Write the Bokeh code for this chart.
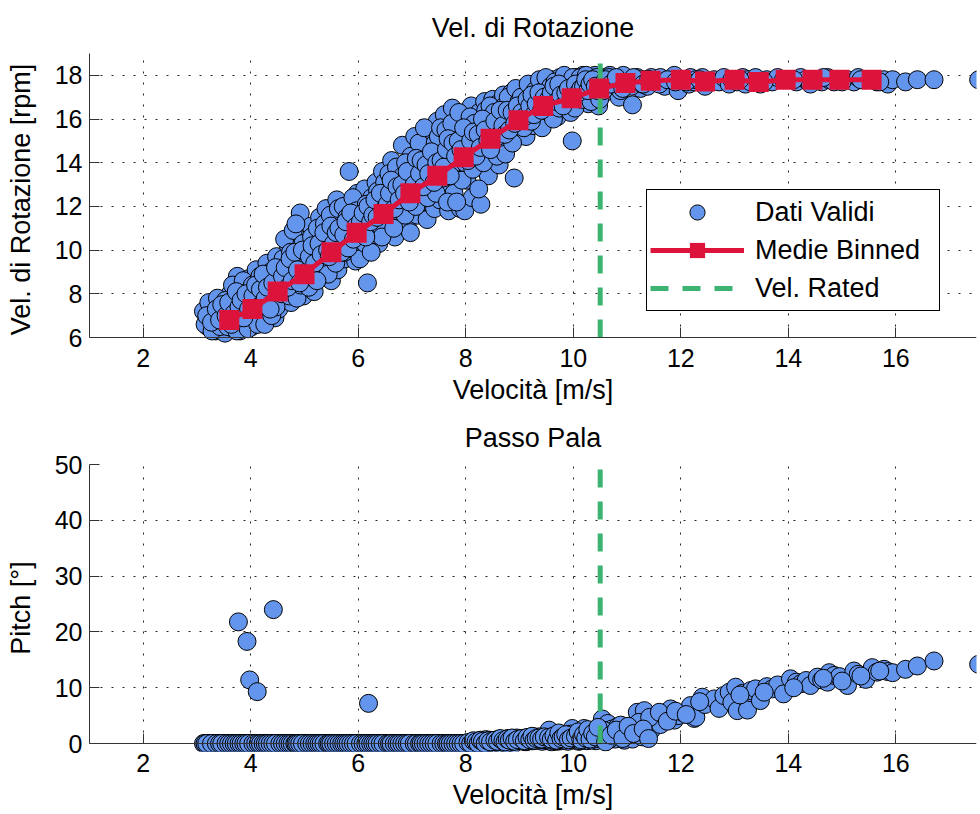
from bokeh.plotting import figure
from bokeh.models import Range1d, Legend, LegendItem, FixedTicker, LinearAxis
from bokeh.layouts import column
from bokeh.embed import file_html
from bokeh.resources import INLINE

# ---------------- data ----------------
wind_speed = [
    3.12, 3.20, 3.25, 3.30, 3.35, 3.40, 3.45, 3.48,
    3.52, 3.55, 3.60, 3.62, 3.68, 3.70, 3.75, 3.77, 3.80, 3.85, 3.88, 3.90, 3.93, 3.97, 3.98,
    4.02, 4.05, 4.10, 4.12, 4.15, 4.20, 4.22, 4.28, 4.30, 4.35, 4.40, 4.42, 4.45, 4.48,
    4.52, 4.55, 4.60, 4.62, 4.68, 4.70, 4.75, 4.78, 4.80, 4.85, 4.88, 4.92, 4.95, 4.98,
    5.02, 5.05, 5.10, 5.12, 5.18, 5.20, 5.25, 5.28, 5.32, 5.35, 5.40, 5.42, 5.47, 5.50,
    5.52, 5.55, 5.60, 5.62, 5.68, 5.70, 5.75, 5.78, 5.83, 5.85, 5.88, 5.92, 5.95, 5.98,
    6.02, 6.05, 6.10, 6.12, 6.17, 6.19, 6.22, 6.25, 6.30, 6.33, 6.38, 6.40, 6.45, 6.48,
    6.52, 6.55, 6.60, 6.62, 6.68, 6.70, 6.75, 6.78, 6.82, 6.85, 6.90, 6.92, 6.97, 6.98,
    7.02, 7.05, 7.10, 7.12, 7.18, 7.20, 7.25, 7.28, 7.32, 7.35, 7.40, 7.42, 7.47, 7.50,
    7.52, 7.55, 7.60, 7.62, 7.68, 7.70, 7.75, 7.78, 7.82, 7.85, 7.90, 7.92, 7.97, 7.98,
    8.02, 8.05, 8.10, 8.12, 8.18, 8.20, 8.25, 8.28, 8.32, 8.35, 8.40, 8.42, 8.47, 8.50,
    8.52, 8.55, 8.60, 8.62, 8.68, 8.70, 8.75, 8.78, 8.82, 8.85, 8.90, 8.92, 8.97, 8.98,
    9.02, 9.05, 9.10, 9.12, 9.18, 9.20, 9.25, 9.28, 9.32, 9.35, 9.40, 9.42, 9.47, 9.48,
    9.52, 9.55, 9.60, 9.62, 9.68, 9.70, 9.75, 9.78, 9.82, 9.85, 9.90, 9.92, 9.97, 9.98,
    10.02, 10.05, 10.10, 10.12, 10.18, 10.20, 10.25, 10.28, 10.32, 10.35, 10.40, 10.42, 10.47, 10.48,
    10.52, 10.54, 10.58, 10.62, 10.64, 10.68, 10.72, 10.78, 10.82, 10.85, 10.90, 10.95, 10.98,
    11.05, 11.10, 11.15, 11.19, 11.25, 11.32, 11.35, 11.38, 11.45,
    11.55, 11.62, 11.70, 11.81, 11.88, 11.95,
    12.05, 12.15, 12.18, 12.25, 12.28, 12.40, 12.45,
    12.62, 12.71, 12.80, 12.90, 12.95,
    13.02, 13.05, 13.15, 13.20, 13.24, 13.30, 13.39, 13.48,
    13.60, 13.70, 13.80, 13.91,
    14.04, 14.15, 14.23, 14.33, 14.41,
    14.54, 14.62, 14.73, 14.76, 14.85, 14.95,
    15.10, 15.22, 15.30, 15.44,
    15.56, 15.65, 15.78, 15.85, 15.94,
    16.18, 16.40, 16.71, 17.54,
    # second pass of records
    3.15, 3.22, 3.28, 3.33, 3.38, 3.43, 3.47,
    3.53, 3.57, 3.63, 3.66, 3.72, 3.74, 3.79, 3.83, 3.86, 3.92, 3.95, 3.99,
    4.03, 4.07, 4.13, 4.17, 4.24, 4.26, 4.32, 4.37, 4.39, 4.44, 4.47, 4.49,
    4.53, 4.58, 4.63, 4.66, 4.72, 4.74, 4.79, 4.83, 4.86, 4.90, 4.93, 4.97,
    5.03, 5.08, 5.13, 5.16, 5.22, 5.24, 5.29, 5.33, 5.37, 5.41, 5.44, 5.48,
    5.53, 5.58, 5.63, 5.66, 5.72, 5.74, 5.79, 5.82, 5.87, 5.90, 5.93, 5.97,
    6.03, 6.08, 6.13, 6.15, 6.21, 6.24, 6.28, 6.32, 6.36, 6.42, 6.44, 6.49,
    6.53, 6.57, 6.63, 6.66, 6.71, 6.74, 6.79, 6.83, 6.87, 6.88, 6.93, 6.96,
    7.03, 7.07, 7.13, 7.16, 7.22, 7.23, 7.29, 7.33, 7.37, 7.43, 7.45, 7.49,
    7.53, 7.58, 7.63, 7.66, 7.72, 7.74, 7.80, 7.83, 7.87, 7.93, 7.95, 7.99,
    8.03, 8.08, 8.13, 8.16, 8.22, 8.24, 8.29, 8.33, 8.37, 8.43, 8.45, 8.49,
    8.53, 8.58, 8.63, 8.66, 8.72, 8.74, 8.79, 8.83, 8.87, 8.93, 8.95, 8.99,
    9.03, 9.08, 9.13, 9.16, 9.22, 9.24, 9.29, 9.33, 9.37, 9.43, 9.45, 9.49,
    9.53, 9.58, 9.63, 9.66, 9.72, 9.74, 9.79, 9.83, 9.87, 9.93, 9.95, 9.99,
    10.03, 10.08, 10.13, 10.16, 10.22, 10.24, 10.29, 10.33, 10.37, 10.43, 10.45, 10.49,
    10.56, 10.66, 10.75, 10.88, 10.93,
    11.08, 11.22, 11.28, 11.42,
    11.60, 11.75, 11.90,
    12.10, 12.35,
    13.10, 13.55, 14.10, 14.65, 15.00, 15.35, 15.70,
    # third pass of records
    3.18, 3.27, 3.36, 3.42, 3.46,
    3.54, 3.59, 3.64, 3.69, 3.73, 3.78, 3.82, 3.87, 3.91, 3.96,
    4.04, 4.09, 4.14, 4.18, 4.23, 4.27, 4.31, 4.36, 4.41, 4.46,
    4.54, 4.59, 4.64, 4.69, 4.73, 4.77, 4.82, 4.84, 4.87, 4.91, 4.96,
    5.04, 5.09, 5.14, 5.19, 5.23, 5.27, 5.31, 5.36, 5.43, 5.46, 5.49,
    5.54, 5.59, 5.64, 5.69, 5.73, 5.77, 5.81, 5.86, 5.91, 5.96,
    6.04, 6.09, 6.14, 6.18, 6.23, 6.27, 6.31, 6.35, 6.41, 6.46,
    6.54, 6.58, 6.61, 6.67, 6.72, 6.76, 6.81, 6.86, 6.91, 6.95,
    7.04, 7.08, 7.14, 7.17, 7.21, 7.26, 7.31, 7.36, 7.41, 7.46,
    7.54, 7.59, 7.64, 7.67, 7.71, 7.76, 7.81, 7.86, 7.91, 7.96,
    8.04, 8.09, 8.14, 8.19, 8.23, 8.27, 8.31, 8.36, 8.41, 8.46,
    8.54, 8.59, 8.64, 8.69, 8.73, 8.77, 8.81, 8.86, 8.91, 8.96,
    9.04, 9.09, 9.14, 9.19, 9.23, 9.27, 9.31, 9.36, 9.41, 9.46,
    9.54, 9.59, 9.64, 9.69, 9.73, 9.77, 9.81, 9.86, 9.91, 9.96,
    10.04, 10.09, 10.14, 10.19, 10.23, 10.27, 10.31, 10.36, 10.41, 10.46,
    10.60, 10.70, 10.80, 10.92, 11.02, 11.12, 11.30, 11.40,
]

rotor_speed = [
    7.2, 6.5, 6.9, 7.4, 6.3, 7.0, 7.7, 6.6,
    6.2, 7.3, 6.8, 8.0, 6.4, 7.6, 8.8, 7.0, 6.3, 8.3, 7.4, 6.6, 7.9, 8.7, 7.1,
    6.5, 7.2, 9.1, 8.0, 6.8, 7.6, 8.5, 7.1, 9.4, 8.1, 7.5, 8.9, 6.9, 9.7,
    7.3, 8.4, 9.6, 7.8, 8.9, 10.2, 7.6, 9.3, 8.2, 10.6, 8.7, 11.7, 9.8, 7.9,
    8.5, 10.1, 9.2, 11.1, 8.1, 10.5, 9.6, 11.5, 8.8, 10.0, 11.9, 9.3, 10.7, 8.6,
    9.9, 11.2, 12.3, 9.1, 10.4, 11.7, 9.6, 10.9, 13.6, 12.1, 10.2, 11.4, 9.5, 12.6,
    10.8, 11.9, 10.0, 12.8, 8.5, 11.3, 10.5, 12.4, 11.0, 13.1, 10.3, 11.8, 13.6, 12.2,
    10.9, 12.9, 11.5, 14.1, 10.6, 12.4, 13.5, 11.2, 14.8, 12.0, 13.1, 11.0, 10.8, 14.3,
    12.7, 15.2, 11.6, 13.8, 12.2, 14.6, 13.2, 11.4, 15.5, 12.8, 14.1, 11.9, 15.9, 13.5,
    12.3, 14.8, 16.2, 13.1, 11.8, 14.4, 16.5, 12.6, 15.3, 13.7, 11.9, 16.0, 14.5, 11.8,
    13.2, 15.6, 16.6, 12.4, 14.9, 13.8, 16.3, 12.1, 15.2, 16.8, 14.2, 13.4, 15.9, 16.9,
    14.6, 15.5, 16.7, 13.9, 15.1, 17.1, 16.2, 14.8, 15.8, 17.2, 13.3, 16.5, 15.3, 17.3,
    15.9, 16.8, 17.4, 15.2, 16.4, 17.5, 15.7, 16.9, 17.6, 16.1, 17.0, 15.6, 17.7, 16.6,
    17.2, 16.3, 17.8, 16.8, 17.4, 16.1, 17.9, 16.9, 17.5, 16.5, 17.8, 17.1, 17.6, 15.0,
    17.3, 17.9, 16.8, 17.6, 18.0, 17.1, 17.7, 16.7, 17.9, 17.4, 18.0, 17.2, 16.6, 17.8,
    17.5, 17.9, 17.2, 17.7, 17.6, 18.0, 17.4, 17.8, 17.6, 17.0, 17.9, 17.5, 17.7,
    17.8, 16.65, 17.6, 17.9, 17.4, 17.8, 17.7, 17.5, 17.9,
    17.7, 17.9, 17.5, 17.8, 18.0, 17.3,
    17.8, 17.6, 17.9, 17.7, 17.8, 17.9, 17.5,
    17.8, 17.7, 17.9, 17.6, 17.8,
    17.8, 17.7, 17.9, 17.6, 17.8, 17.7, 17.9, 17.6,
    17.8, 17.7, 17.9, 17.8,
    17.8, 17.7, 17.9, 17.8, 17.6,
    17.8, 17.7, 17.9, 17.8, 17.7, 17.8,
    17.8, 17.7, 17.9, 17.8,
    17.8, 17.7, 17.8, 17.6, 17.8,
    17.7, 17.8, 17.8, 17.8,
    # second pass of records
    6.6, 7.6, 6.3, 7.0, 7.8, 6.5, 7.3,
    7.7, 6.5, 7.2, 8.4, 6.9, 6.3, 7.9, 6.8, 8.6, 7.6, 6.4, 8.2,
    8.4, 7.7, 6.6, 8.8, 7.9, 6.6, 8.6, 9.0, 7.0, 8.2, 7.4, 8.7,
    9.0, 8.0, 10.5, 8.6, 7.9, 9.9, 10.9, 9.0, 7.8, 9.5, 8.4, 10.3,
    9.5, 8.3, 10.6, 9.9, 8.9, 11.0, 10.3, 9.1, 11.2, 10.4, 8.9, 11.6,
    10.6, 9.4, 11.9, 10.1, 12.0, 9.9, 11.5, 10.6, 11.0, 12.4, 10.0, 11.8,
    9.6, 11.4, 10.3, 12.1, 11.6, 9.9, 12.0, 10.7, 12.7, 11.1, 10.6, 13.1,
    11.9, 13.5, 12.2, 11.0, 13.8, 11.8, 12.9, 13.4, 11.6, 14.0, 12.5, 13.0,
    13.4, 12.0, 14.9, 12.9, 13.7, 15.6, 12.4, 14.2, 13.0, 14.9, 12.6, 15.2,
    15.6, 13.3, 15.5, 12.2, 13.5, 15.8, 14.0, 12.2, 16.3, 13.2, 15.2, 14.0,
    14.5, 16.1, 13.7, 15.8, 14.5, 12.8, 15.6, 14.0, 16.4, 14.8, 16.6, 15.4,
    16.3, 14.3, 16.0, 15.4, 16.6, 14.4, 17.0, 16.1, 14.9, 17.4, 16.0, 16.8,
    17.0, 15.6, 16.3, 17.6, 15.9, 16.9, 17.3, 16.4, 17.8, 16.8, 17.3, 17.9,
    16.6, 17.5, 16.0, 17.7, 17.0, 16.5, 17.3, 18.0, 16.7, 17.4, 16.3, 17.9,
    16.5, 17.5, 17.9, 16.9, 17.5, 18.0, 17.2, 16.8, 17.7, 17.9, 17.4, 16.9,
    17.3, 17.9, 17.6, 17.3, 18.0,
    17.5, 17.8, 17.6, 17.8,
    17.6, 17.8, 17.7,
    17.7, 17.8,
    17.8, 17.7, 17.8, 17.9, 17.7, 17.8, 17.7,
    # third pass of records
    7.0, 6.7, 7.3, 6.8, 7.5,
    7.0, 7.6, 6.6, 7.1, 8.1, 7.4, 7.7, 6.9, 8.0, 7.3,
    7.9, 8.4, 7.4, 8.2, 8.9, 7.8, 8.3, 7.3, 8.5, 9.2,
    8.1, 8.8, 9.2, 8.3, 9.6, 8.6, 9.9, 11.2, 9.1, 8.5, 10.0,
    9.0, 9.7, 10.2, 9.4, 8.6, 10.3, 9.8, 10.8, 10.0, 9.7, 11.1,
    10.3, 10.8, 11.0, 9.9, 10.7, 11.3, 10.1, 11.7, 10.5, 11.1,
    11.3, 11.7, 10.6, 12.0, 11.3, 11.6, 12.3, 11.5, 12.6, 11.8,
    12.1, 12.6, 13.2, 11.9, 12.9, 12.3, 13.0, 12.6, 13.6, 12.2,
    13.0, 14.2, 13.5, 14.1, 12.9, 13.9, 13.5, 14.5, 13.1, 14.0,
    14.1, 13.8, 14.6, 15.1, 13.4, 14.9, 14.3, 15.0, 14.6, 15.6,
    14.1, 15.0, 15.4, 14.3, 15.3, 14.7, 16.0, 15.5, 15.0, 14.6,
    15.9, 15.2, 16.4, 15.7, 15.3, 16.4, 15.5, 16.3, 15.8, 16.6,
    16.3, 16.1, 16.9, 16.6, 17.1, 16.2, 16.7, 17.2, 16.4, 17.0,
    16.9, 17.2, 17.5, 16.8, 17.6, 17.1, 16.6, 17.2, 17.4, 17.0,
    17.6, 17.2, 17.4, 17.5, 17.8, 17.3, 17.6, 17.8, 17.5, 17.3,
    17.8, 17.6, 17.9, 17.4, 17.7, 17.9, 17.6, 17.8,
]

blade_pitch = [
    0, 0, 0, 0, 0, 0, 0, 0,
    0, 0, 0, 0, 0, 0, 0, 21.8, 0, 0, 0, 0, 18.3, 0, 11.4,
    0, 0, 0, 9.3, 0, 0, 0, 0, 0, 0, 0, 24.0, 0, 0,
    0, 0, 0, 0, 0, 0, 0, 0, 0, 0, 0, 0, 0, 0,
    0, 0, 0, 0, 0, 0, 0, 0, 0, 0, 0, 0, 0, 0,
    0, 0, 0, 0, 0, 0, 0, 0, 0, 0, 0, 0, 0, 0,
    0, 0, 0, 0, 0, 7.2, 0, 0, 0, 0, 0, 0, 0, 0,
    0, 0, 0, 0, 0, 0, 0, 0, 0, 0, 0, 0, 0, 0,
    0, 0, 0, 0, 0, 0, 0, 0, 0, 0, 0, 0, 0, 0,
    0, 0, 0, 0, 0, 0, 0, 0, 0, 0, 0, 0, 0, 0,
    0, 0, 0, 0, 0.3, 0, 0.5, 0, 0.4, 0, 0.6, 0, 0.3, 0.5,
    0, 0.4, 0.7, 0, 0.5, 0.3, 0.8, 0, 0.6, 0.4, 0, 0.9, 0.5, 0.7,
    0.6, 0.9, 0.4, 0.3, 1.0, 0.7, 0.5, 1.2, 0.8, 0.6, 1.1, 0.4, 0.9, 1.3,
    0.5, 2.4, 0.3, 0.9, 0.6, 0.4, 1.0, 0.5, 1.2, 0.7, 0.4, 1.4, 0.8, 2.7,
    0.6, 1.1, 0.4, 1.5, 0.8, 2.7, 0.5, 1.2, 1.8, 0.9, 1.4, 0.5, 1.0, 2.0,
    1.0, 4.4, 2.0, 0.5, 3.6, 1.2, 2.6, 0.8, 3.0, 2.7, 1.6, 0.6, 2.2,
    1.4, 0.8, 3.5, 5.6, 1.9, 5.9, 4.0, 3.0, 2.4,
    4.6, 3.4, 5.2, 6.2, 4.2, 5.0,
    5.5, 6.0, 6.8, 4.5, 4.7, 8.3, 7.0,
    8.0, 6.3, 8.6, 9.2, 7.4,
    10.1, 5.9, 9.0, 8.3, 6.0, 9.5, 9.8, 7.7,
    10.2, 9.8, 10.5, 8.9,
    11.6, 11.0, 10.7, 11.3, 10.4,
    11.9, 11.4, 11.0, 12.7, 12.2, 12.0,
    10.4, 13.0, 12.4, 11.5,
    13.6, 12.8, 13.3, 12.9, 12.7,
    13.3, 13.9, 14.8, 14.2,
    # second pass of records
    0, 0, 0, 0, 0, 0, 0,
    0, 0, 0, 0, 0, 0, 0, 0, 0, 0, 0, 0,
    0, 0, 0, 0, 0, 0, 0, 0, 0, 0, 0, 0,
    0, 0, 0, 0, 0, 0, 0, 0, 0, 0, 0, 0,
    0, 0, 0, 0, 0, 0, 0, 0, 0, 0, 0, 0,
    0, 0, 0, 0, 0, 0, 0, 0, 0, 0, 0, 0,
    0, 0, 0, 0, 0, 0, 0, 0, 0, 0, 0, 0,
    0, 0, 0, 0, 0, 0, 0, 0, 0, 0, 0, 0,
    0, 0, 0, 0, 0, 0, 0, 0, 0, 0, 0, 0,
    0, 0, 0, 0, 0, 0, 0, 0, 0, 0, 0, 0,
    0, 0, 0, 0.4, 0, 0.3, 0.5, 0, 0.7, 0.4, 0.6, 0.3,
    0.5, 0.3, 0.8, 0.4, 0.6, 0, 0.9, 0.5, 0.4, 0.7, 1.0, 0.6,
    0.8, 0.4, 0.7, 1.0, 0.5, 1.1, 0.6, 0.9, 1.2, 0.7, 1.0, 0.8,
    0.9, 0.6, 1.3, 0.5, 1.0, 0.7, 1.5, 0.6, 1.1, 0.8, 1.7, 0.9,
    0.8, 1.3, 0.5, 1.6, 0.9, 1.2, 2.0, 0.6, 1.4, 0.9, 2.3, 1.1,
    2.4, 0.7, 1.8, 3.3, 1.0,
    2.2, 3.8, 1.2, 4.7,
    5.6, 4.0, 5.8,
    5.2, 7.5,
    8.7, 9.2, 10.0, 11.7, 11.2, 12.1, 13.0,
    # third pass of records
    0, 0, 0, 0, 0,
    0, 0, 0, 0, 0, 0, 0, 0, 0, 0,
    0, 0, 0, 0, 0, 0, 0, 0, 0, 0,
    0, 0, 0, 0, 0, 0, 0, 0, 0, 0, 0,
    0, 0, 0, 0, 0, 0, 0, 0, 0, 0, 0,
    0, 0, 0, 0, 0, 0, 0, 0, 0, 0,
    0, 0, 0, 0, 0, 0, 0, 0, 0, 0,
    0, 0, 0, 0, 0, 0, 0, 0, 0, 0,
    0, 0, 0, 0, 0, 0, 0, 0, 0, 0,
    0, 0, 0, 0, 0, 0, 0, 0, 0, 0,
    0.2, 0, 0.5, 0.3, 0, 0.6, 0.4, 0, 0.5, 0.3,
    0.6, 0.4, 0.9, 0.5, 0.3, 0.8, 0.6, 1.0, 0.4, 0.7,
    0.9, 0.5, 1.1, 0.7, 1.3, 0.6, 0.9, 1.0, 0.8, 1.2,
    1.1, 0.8, 1.4, 0.6, 1.9, 0.9, 1.2, 1.6, 0.7, 1.0,
    1.3, 2.1, 0.7, 1.6, 1.0, 2.5, 0.8, 1.8, 1.2, 2.9,
    0.3, 1.5, 2.4, 0.9, 3.1, 1.8, 2.6, 0.9,
]

bin_speed = [3.60, 4.03, 4.50, 5.00, 5.50, 5.97, 6.47, 6.97, 7.47, 7.96, 8.46, 8.98, 9.44,
             9.97, 10.48, 10.97, 11.44, 12.00, 12.45, 13.00, 13.45, 13.95, 14.45, 14.95, 15.55]
bin_rpm = [6.8, 7.3, 8.1, 8.9, 9.9, 10.8, 11.65, 12.6, 13.4, 14.25, 15.1, 15.95, 16.6,
           16.95, 17.4, 17.65, 17.75, 17.8, 17.72, 17.8, 17.7, 17.8, 17.8, 17.8, 17.8]

rated_speed = 10.5

speed_limits = (1, 17.5)
rpm_limits = (6, 19)
pitch_limits = (0, 50)
speed_ticks = [2, 4, 6, 8, 10, 12, 14, 16]
rpm_ticks = [6, 8, 10, 12, 14, 16, 18]
pitch_ticks = [0, 10, 20, 30, 40, 50]

assert len(wind_speed) == len(rotor_speed) == len(blade_pitch)

# ---------------- style ----------------
FONT = "Liberation Sans"
BLUE = "#6495ED"
RED = "#DC143C"
GREEN = "#3CB371"
AXIS = "#333333"
W = 980
MARKER = 18
PAD = 8  # px of frame below the x axis so markers on the axis are not cut


def padded(lim, frame_px, pad_px):
    span = lim[1] - lim[0]
    return lim[0] - pad_px * span / (frame_px - pad_px)


def make_fig(height, top, bottom, ylim, title, title_standoff, ylabel, yticks,
             tick_standoff, label_standoff):
    frame_px = height - top - bottom
    p = figure(width=W, height=height,
               x_range=Range1d(*speed_limits),
               y_range=Range1d(padded(ylim, frame_px, PAD), ylim[1]),
               output_backend="svg", toolbar_location=None,
               min_border_left=89, min_border_right=4,
               min_border_top=top, min_border_bottom=bottom,
               title=title)
    p.outline_line_color = None
    p.background_fill_color = "white"
    p.border_fill_color = "white"

    p.title.text_font = FONT
    p.title.text_font_size = "27px"
    p.title.text_font_style = "normal"
    p.title.text_color = "black"
    p.title.align = "center"
    p.title.standoff = title_standoff

    xa = p.xaxis[0]
    ya = p.yaxis[0]
    xa.ticker = FixedTicker(ticks=speed_ticks)
    ya.ticker = FixedTicker(ticks=yticks)
    ya.bounds = ylim
    xa.axis_label = "Velocità [m/s]"
    ya.axis_label = ylabel

    # axis line + inward ticks drawn exactly at the lower y limit
    xline = LinearAxis(ticker=FixedTicker(ticks=speed_ticks), fixed_location=ylim[0],
                       major_label_text_color=None, axis_label=None)
    p.add_layout(xline, "below")

    for ax in (xa, ya, xline):
        ax.axis_line_color = AXIS
        ax.axis_line_width = 1
        ax.major_tick_line_color = AXIS
        ax.major_tick_in = 10
        ax.major_tick_out = 0
        ax.minor_tick_in = 0
        ax.minor_tick_out = 0
        ax.major_label_text_font = FONT
        ax.major_label_text_font_size = "25px"
        ax.axis_label_text_font = FONT
        ax.axis_label_text_font_size = "27px"
        ax.axis_label_text_font_style = "normal"
        ax.axis_label_text_color = "black"
    xa.major_label_text_color = "black"
    ya.major_label_text_color = "black"
    xline.major_label_text_color = None
    # labels-only bottom axis
    xa.axis_line_color = None
    xa.major_tick_line_color = None
    xa.major_tick_in = 0
    xa.major_label_standoff = tick_standoff
    xa.axis_label_standoff = label_standoff
    ya.major_label_standoff = 7
    ya.axis_label_standoff = 16

    p.xgrid[0].ticker = FixedTicker(ticks=speed_ticks)
    p.ygrid[0].ticker = FixedTicker(ticks=yticks)
    for g in (p.xgrid[0], p.ygrid[0]):
        g.grid_line_color = "black"
        g.grid_line_dash = "2 9"
        g.grid_line_width = 1
        g.grid_line_alpha = 0.85
    try:
        p.xgrid[0].cross_bounds = ylim
    except Exception:
        pass
    return p


# ---------------- top: rotor speed ----------------
p1 = make_fig(408, 53, 63, rpm_limits, "Vel. di Rotazione", 21,
              "Vel. di Rotazione [rpm]", rpm_ticks, 3, 5)
sc1 = p1.scatter(wind_speed, rotor_speed, marker="circle", size=MARKER,
                 fill_color=BLUE, line_color="black", line_width=1)
rated1 = p1.line([rated_speed, rated_speed], list(rpm_limits), line_color=GREEN,
                 line_width=5, line_dash="18 14")
bl = p1.line(bin_speed, bin_rpm, line_color=RED, line_width=5)
bs = p1.scatter(bin_speed, bin_rpm, marker="square", size=20,
                fill_color=RED, line_color=None)

legend = Legend(items=[
    LegendItem(label="Dati Validi", renderers=[sc1]),
    LegendItem(label="Medie Binned", renderers=[bl, bs]),
    LegendItem(label="Vel. Rated", renderers=[rated1]),
], location=(557, 34))
legend.border_line_color = "black"
legend.border_line_width = 1
legend.border_line_alpha = 1
legend.background_fill_color = "white"
legend.background_fill_alpha = 1
legend.label_text_font = FONT
legend.label_text_font_size = "27px"
legend.label_text_color = "black"
legend.glyph_width = 94
legend.glyph_height = 38
legend.label_height = 38
legend.spacing = 0
legend.padding = 3
legend.label_standoff = 11
legend.label_width = 181
legend.margin = 0
p1.add_layout(legend)

# ---------------- bottom: blade pitch ----------------
p2 = make_fig(406, 54, 63, pitch_limits, "Passo Pala", 24,
              "Pitch [°]", pitch_ticks, 2, 5)
p2.scatter(wind_speed, blade_pitch, marker="circle", size=MARKER,
           fill_color=BLUE, line_color="black", line_width=1)
p2.line([rated_speed, rated_speed], list(pitch_limits), line_color=GREEN,
        line_width=5, line_dash="18 14")

layout = column(p1, p2)
open("out.html", "w").write(file_html(layout, INLINE))
